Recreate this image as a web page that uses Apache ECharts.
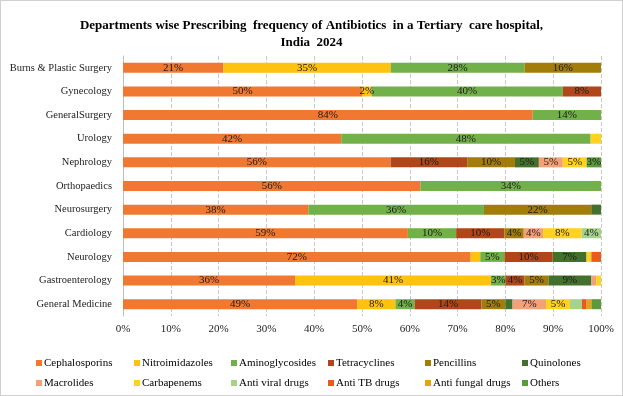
<!DOCTYPE html>
<html>
<head>
<meta charset="utf-8">
<script src="https://cdn.jsdelivr.net/npm/echarts@6/dist/echarts.min.js"></script>
<style>
html,body{margin:0;padding:0;background:#fff;}
#c{width:621px;height:394px;border:1px solid #d0d0d0;}
</style>
</head>
<body>
<div id="c"></div>
<script>
const categories = ['Burns & Plastic Surgery','Gynecology','GeneralSurgery','Urology','Nephrology','Orthopaedics','Neurosurgery','Cardiology','Neurology','Gastroenterology','General Medicine'];
const seriesNames = ['Cephalosporins','Nitroimidazoles','Aminoglycosides','Tetracyclines','Pencillins','Quinolones','Macrolides','Carbapenems','Anti viral drugs','Anti TB drugs','Anti fungal drugs','Others'];
// values per drug class, in category order (top to bottom)
const cephalosporins  = [21, 50, 84, 42, 56, 56, 38, 59, 72, 36, 49];
const nitroimidazoles = [35,  2,  0,  0,  0,  0,  0,  0,  2, 41,  8];
const aminoglycosides = [28, 40, 14, 48,  0, 34, 36, 10,  5,  3,  4];
const tetracyclines   = [ 0,  8,  0,  0, 16,  0,  0, 10, 10,  4, 14];
const pencillins      = [16,  0,  0,  0, 10,  0, 22,  4,  0,  5,  5];
const quinolones      = [ 0,  0,  0,  0,  5,  0,  2,  0,  7,  9, 1.5];
const macrolides      = [ 0,  0,  0,  0,  5,  0,  0,  4,  0,  1,  7];
const carbapenems     = [ 0,  0,  0,  2,  5,  0,  0,  8,  1,  1,  5];
const antiViral       = [ 0,  0,  0,  0,  0,  0,  0,  4,  0,  0, 2.5];
const antiTB          = [ 0,  0,  0,  0,  0,  0,  0,  0,  2,  0,  1];
const antiFungal      = [ 0,  0,  0,  0,  0,  0,  0,  0,  0,  0,  1];
const others          = [ 0,  0,  0,  0,  3,  0,  0,  0,  0,  0,  2];
const xTicks = ['0%','10%','20%','30%','40%','50%','60%','70%','80%','90%','100%'];

const allValues = [cephalosporins, nitroimidazoles, aminoglycosides, tetracyclines, pencillins, quinolones, macrolides, carbapenems, antiViral, antiTB, antiFungal, others];
const colors = ['#F07830','#FFC20E','#72B04A','#B0461A','#A37D0A','#44702E','#F6A078','#FFD21E','#A6D38A','#E85A1E','#E5A316','#5A9A3A'];

const totals = categories.map((c, i) => allValues.reduce((s, arr) => s + arr[i], 0));
const forcedLabel = {seriesIndex: 1, dataIndex: 1}; // small "2%" label shown in Gynecology

const series = seriesNames.map((name, si) => ({
  name: name,
  type: 'bar',
  stack: 'total',
  barWidth: 10,
  itemStyle: {color: colors[si]},
  label: {
    show: true,
    position: 'inside',
    color: '#1a1a1a',
    fontFamily: 'Liberation Serif',
    fontSize: 11,
    formatter: p => {
      const raw = p.data.raw;
      if (raw >= 3 || (si === forcedLabel.seriesIndex && p.dataIndex === forcedLabel.dataIndex)) return raw + '%';
      return '';
    }
  },
  labelLayout: {hideOverlap: false},
  data: allValues[si].map((v, i) => ({value: v / totals[i] * 100, raw: v}))
}));

// legend: 6 columns x 2 rows
const legendLefts = [35, 133, 230, 327, 424, 521];
const legends = legendLefts.map((x, col) => ({
  data: [seriesNames[col], seriesNames[col + 6]],
  orient: 'vertical',
  left: x,
  top: 355,
  icon: 'rect',
  itemWidth: 6,
  itemHeight: 6,
  itemGap: 6,
  padding: 0,
  textStyle: {fontFamily: 'Liberation Serif', fontSize: 11, color: '#000', padding: [0, 0, 0, -3], lineHeight: 14}
}));

const chart = echarts.init(document.getElementById('c'));
chart.setOption({
  animation: false,
  backgroundColor: '#fff',
  title: {
    text: 'Departments wise Prescribing  frequency of Antibiotics  in a Tertiary  care hospital,\nIndia  2024',
    left: 'center',
    top: 11,
    textStyle: {fontFamily: 'Liberation Serif', fontWeight: 'bold', fontSize: 13, color: '#000', lineHeight: 17}
  },
  legend: legends,
  grid: {left: 122, right: 21, top: 55, bottom: 79, containLabel: false},
  xAxis: {
    type: 'value',
    min: 0,
    max: 100,
    interval: 10,
    axisLabel: {
      fontFamily: 'Liberation Serif', fontSize: 11, color: '#222', margin: 8,
      formatter: v => xTicks[Math.round(v / 10)]
    },
    axisLine: {show: false},
    axisTick: {show: false},
    splitLine: {show: true, lineStyle: {color: '#c8c8c8', type: 'dashed', width: 1}}
  },
  yAxis: {
    type: 'category',
    data: categories,
    inverse: true,
    axisLabel: {fontFamily: 'Liberation Serif', fontSize: 10.5, color: '#222', margin: 11},
    axisLine: {show: true, lineStyle: {color: '#bdbdbd'}},
    axisTick: {show: false}
  },
  series: series
});
</script>
</body>
</html>
